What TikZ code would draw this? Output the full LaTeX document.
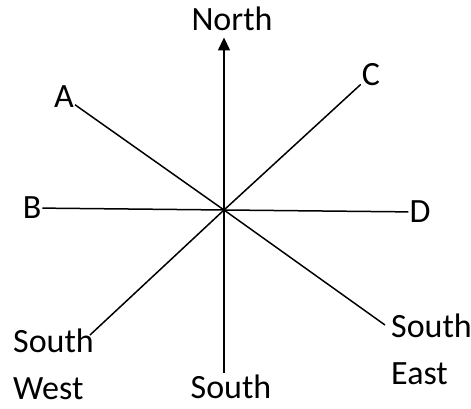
\documentclass[tikz,border=0pt]{standalone}
\usepackage{fontspec}
\setmainfont{Carlito}
\usetikzlibrary{arrows.meta}
\begin{document}
\begin{tikzpicture}[
    x=1pt, y=1pt,
    lbl/.style={inner sep=1pt, font=\fontsize{34}{47}\selectfont},
    ray/.style={line width=1.5pt},
    >={Triangle[length=13pt,width=12pt]}
  ]
  \useasboundingbox (0,0) rectangle (471,-408);
  \coordinate (o) at (224,-210);
  \node[lbl, anchor=base] (north) at (232,-30) {North};
  \node[lbl] (A) at (64,-97) {A};
  \node[lbl] (B) at (32,-208) {B};
  \node[lbl] (C) at (371,-75) {C};
  \node[lbl] (D) at (420,-212) {D};
  \node[lbl, anchor=base] (south) at (231,-398) {South};
  \node[lbl, align=left, anchor=base west] (sw) at (12,-399) {South\\West};
  \node[lbl, align=left, anchor=base west] (se) at (390,-384) {South\\East};
  \coordinate (swEnd) at (90,-335);
  \coordinate (seEnd) at (385,-325);
  \draw[ray, ->, shorten >=6pt] (o) -- (o |- north.south);
  \draw[ray] (o) -- (o |- south.north);
  \draw[ray] (B) -- (D);
  \draw[ray] (A) -- (o);
  \draw[ray] (o) -- (C);
  \draw[ray] (o) -- (swEnd);
  \draw[ray] (o) -- (seEnd);
\end{tikzpicture}
\end{document}
